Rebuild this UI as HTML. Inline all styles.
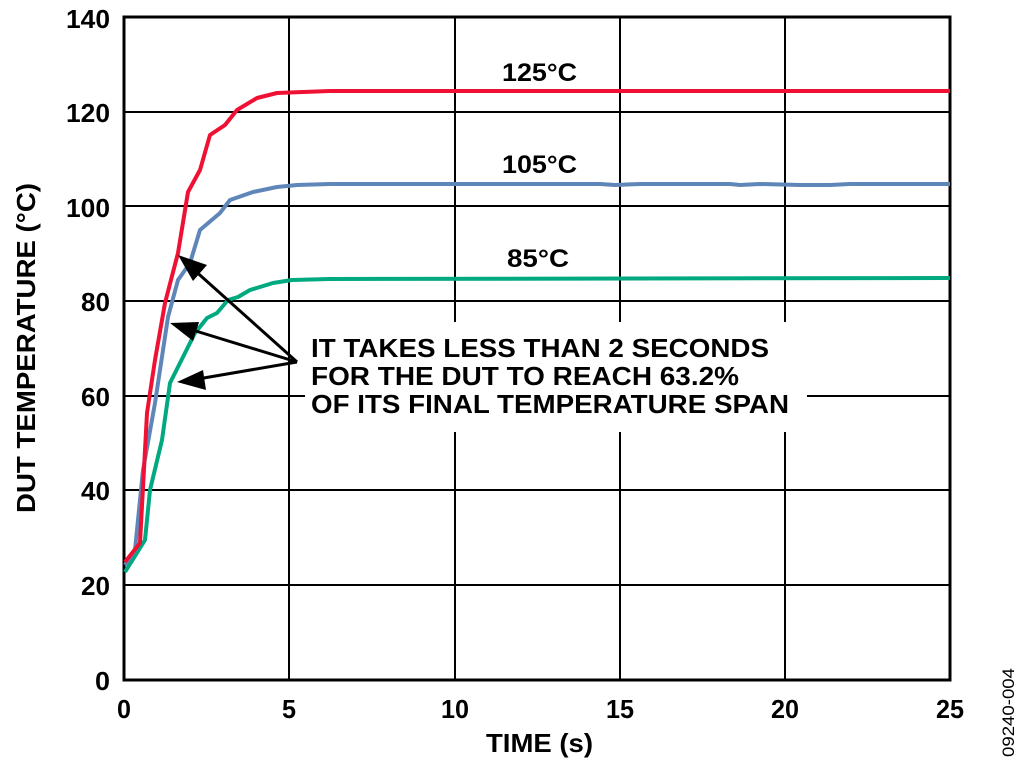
<!DOCTYPE html>
<html><head><meta charset="utf-8"><style>body{margin:0;background:#fff}svg{display:block}text{font-family:"Liberation Sans",Arial,sans-serif;font-weight:bold;fill:#000}</style></head>
<body>
<svg width="1024" height="769" viewBox="0 0 1024 769">
<g stroke="#000" stroke-width="2">
<line x1="124" y1="112" x2="950" y2="112"/><line x1="124" y1="206" x2="950" y2="206"/><line x1="124" y1="301" x2="950" y2="301"/><line x1="124" y1="396" x2="950" y2="396"/><line x1="124" y1="490" x2="950" y2="490"/><line x1="124" y1="585" x2="950" y2="585"/>
<line x1="289" y1="17" x2="289" y2="680"/><line x1="455" y1="17" x2="455" y2="680"/><line x1="620" y1="17" x2="620" y2="680"/><line x1="785" y1="17" x2="785" y2="680"/>
<rect x="124" y="17" width="826" height="663" fill="none" stroke-width="3"/>
</g>
<rect x="305" y="322" width="502" height="110" fill="#fff"/>
<g fill="none" stroke-width="4" stroke-linejoin="round">
<polyline stroke="#00a97f" points="125,572 145,540 150,490 162,440 170,383 180,363 195,333 207,318 217,313 228,300 238,297 250,290 273,283 292,280 330,279 950,278"/>
<polyline stroke="#5f86b8" points="125,565 135,550 143,470 155,403 168,317 178,280 190,263 200,230 220,213 230,200 253,192 277,187 297,185 330,184 600,184 615,185 640,184 730,184 740,185 760,184 800,185 830,185 850,184 950,184"/>
<polyline stroke="#ef1134" points="125,562 140,543 147,413 155,360 165,303 178,253 188,192 200,170 210,135 225,125 237,110 257,98 277,93 303,92 330,91 950,91"/>
</g>
<g stroke="#000" stroke-width="3" fill="#000">
<line x1="297" y1="362" x2="192" y2="268"/><polygon points="178,255 207,265 193,281" stroke="none"/>
<line x1="297" y1="362" x2="186" y2="328"/><polygon points="170,323 199,322 193,341" stroke="none"/>
<line x1="297" y1="362" x2="192" y2="380"/><polygon points="177,382 203,370 206,390" stroke="none"/>
</g>
<g font-size="26">
<text x="311" y="357" textLength="458" lengthAdjust="spacingAndGlyphs">IT TAKES LESS THAN 2 SECONDS</text>
<text x="311" y="385" textLength="428" lengthAdjust="spacingAndGlyphs">FOR THE DUT TO REACH 63.2%</text>
<text x="311" y="413" textLength="478" lengthAdjust="spacingAndGlyphs">OF ITS FINAL TEMPERATURE SPAN</text>
</g>
<g font-size="25">
<text x="502" y="81" textLength="75" lengthAdjust="spacingAndGlyphs">125°C</text>
<text x="502" y="173" textLength="75" lengthAdjust="spacingAndGlyphs">105°C</text>
<text x="507" y="267" textLength="62" lengthAdjust="spacingAndGlyphs">85°C</text>
</g>
<g font-size="26">
<text x="66" y="28" textLength="44" lengthAdjust="spacingAndGlyphs">140</text>
<text x="66" y="122" textLength="44" lengthAdjust="spacingAndGlyphs">120</text>
<text x="66" y="217" textLength="44" lengthAdjust="spacingAndGlyphs">100</text>
<text x="81" y="311" textLength="29" lengthAdjust="spacingAndGlyphs">80</text>
<text x="81" y="406" textLength="29" lengthAdjust="spacingAndGlyphs">60</text>
<text x="81" y="500" textLength="29" lengthAdjust="spacingAndGlyphs">40</text>
<text x="81" y="595" textLength="29" lengthAdjust="spacingAndGlyphs">20</text>
<text x="95" y="690" textLength="15" lengthAdjust="spacingAndGlyphs">0</text>
<text x="117" y="718" textLength="14" lengthAdjust="spacingAndGlyphs">0</text>
<text x="282" y="718" textLength="14" lengthAdjust="spacingAndGlyphs">5</text>
<text x="441" y="718" textLength="28" lengthAdjust="spacingAndGlyphs">10</text>
<text x="606" y="718" textLength="28" lengthAdjust="spacingAndGlyphs">15</text>
<text x="771" y="718" textLength="28" lengthAdjust="spacingAndGlyphs">20</text>
<text x="936" y="718" textLength="28" lengthAdjust="spacingAndGlyphs">25</text>
<text x="486" y="752" textLength="107" lengthAdjust="spacingAndGlyphs">TIME (s)</text>
<text transform="translate(35,513) rotate(-90)" textLength="330" lengthAdjust="spacingAndGlyphs">DUT TEMPERATURE (°C)</text>
</g>
<text font-size="17" transform="translate(1014,757) rotate(-90)" textLength="89" lengthAdjust="spacingAndGlyphs" style="font-weight:normal">09240-004</text>
</svg>
</body></html>
